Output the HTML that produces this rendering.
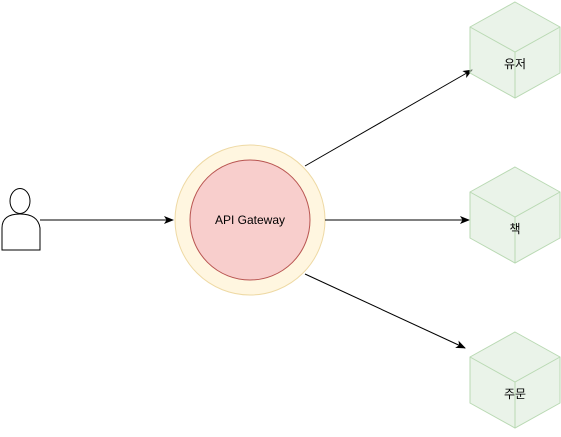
<!DOCTYPE html>
<html><head><meta charset="utf-8"><style>body{margin:0;background:#fff}</style></head><body>
<svg width="561" height="432" xmlns="http://www.w3.org/2000/svg" font-family="Liberation Sans, Noto Sans CJK KR, sans-serif">
<defs><marker id="a" markerWidth="10" markerHeight="8" refX="9" refY="4" orient="auto" markerUnits="userSpaceOnUse"><path d="M0,0 L10,4 L0,8 L2.5,4 z" fill="#000"/></marker></defs>
<ellipse cx="20" cy="201" rx="10" ry="12.5" fill="#fff" stroke="#000" stroke-width="1"/>
<path d="M2,250 L2,228 Q2,214 20,214 Q38,214 40,228 L40,250 Z" fill="#fff" stroke="#000"/>
<line x1="40" y1="220" x2="173" y2="220" stroke="#000" marker-end="url(#a)"/>
<circle cx="250" cy="220" r="75" fill="#fff6e0" stroke="#eed9a4"/>
<circle cx="250" cy="220" r="60" fill="#f8cecc" stroke="#b85450"/>
<text x="250" y="224" font-size="12" text-anchor="middle">API Gateway</text>
<line x1="305" y1="166" x2="472" y2="70" stroke="#000" marker-end="url(#a)"/>
<line x1="325" y1="220" x2="469" y2="220" stroke="#000" marker-end="url(#a)"/>
<line x1="305" y1="274" x2="465" y2="348" stroke="#000" marker-end="url(#a)"/>
<g id="c" fill="#d5e8d4" fill-opacity="0.5" stroke="#b9d9b3">
<path d="M515,2 L560,27 L560,73 L515,98 L470,73 L470,27 Z"/>
<path d="M470,27 L515,52 L560,27 M515,52 L515,98" fill="none"/>
</g>
<text x="515" y="68" font-size="12" text-anchor="middle">유저</text>
<use href="#c" y="165"/>
<text x="515" y="233" font-size="12" text-anchor="middle">책</text>
<use href="#c" y="330"/>
<text x="515" y="398" font-size="12" text-anchor="middle">주문</text>
</svg>
</body></html>
